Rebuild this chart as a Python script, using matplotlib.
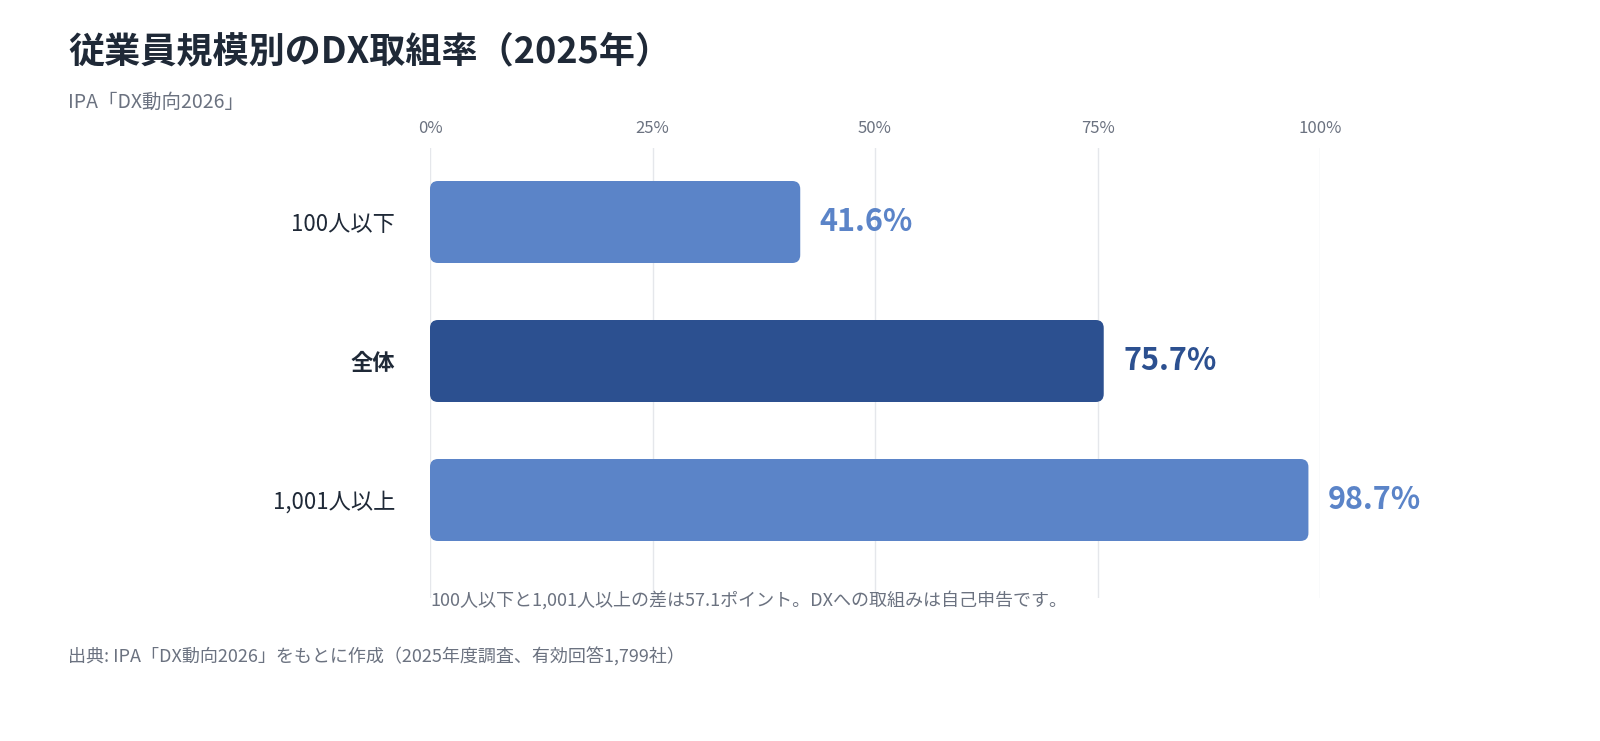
import matplotlib.pyplot as plt
from matplotlib.patches import FancyBboxPatch

plt.rcParams['font.family'] = ['Noto Sans CJK JP', 'DejaVu Sans']

categories = ['100人以下', '全体', '1,001人以上']
values = [41.6, 75.7, 98.7]
colors = ['#5B84C8', '#2C5090', '#5B84C8']
ticks = [0, 25, 50, 75, 100]
tick_labels = ['0%', '25%', '50%', '75%', '100%']

fig = plt.figure(figsize=(16, 7.41), dpi=100)
ax = fig.add_axes([430/1600, 1-598/741, 890/1600, 450/741])
ax.set_xlim(0, 100)
ax.set_ylim(2 + 98/139, -74/139)

xpp = 100/890
ypp = (2 + 98/139 + 74/139)/450
h = 82/139
for i, (c, v, col) in enumerate(zip(categories, values, colors)):
    p = FancyBboxPatch((0, i - h/2), v, h,
                       boxstyle="round,pad=0,rounding_size=%f" % (8*xpp),
                       mutation_aspect=ypp/xpp, fc=col, ec='none', zorder=3)
    ax.add_patch(p)
    ax.text(v + 2.2, i, f'{v}%', va='center', ha='left', fontsize=22,
            fontweight='bold', color=col)

ax.set_yticks(range(3))
ax.set_yticklabels(categories, fontsize=16, color='#1f2937')
ax.get_yticklabels()[1].set_fontweight('bold')
ax.tick_params(axis='y', length=0, pad=25)
ax.xaxis.tick_top()
ax.set_xticks(ticks)
ax.set_xticklabels(tick_labels, fontsize=12, color='#6b7280')
ax.tick_params(axis='x', length=0, pad=8)
ax.grid(axis='x', color='#e5e7eb', lw=1, zorder=0)
for s in ax.spines.values():
    s.set_visible(False)

fig.text(68/1600, 1-52/741, '従業員規模別のDX取組率（2025年）', fontsize=26,
         fontweight='bold', color='#1f2937', va='center')
fig.text(68/1600, 1-102/741, 'IPA「DX動向2026」', fontsize=14, color='#6b7280', va='center')
fig.text(430/1600, 1-600/741, '100人以下と1,001人以上の差は57.1ポイント。DXへの取組みは自己申告です。',
         fontsize=13, color='#6b7280', va='center')
fig.text(68/1600, 1-657/741, '出典: IPA「DX動向2026」をもとに作成（2025年度調査、有効回答1,799社）',
         fontsize=13, color='#6b7280', va='center')

fig.savefig('out.png', dpi=100)
